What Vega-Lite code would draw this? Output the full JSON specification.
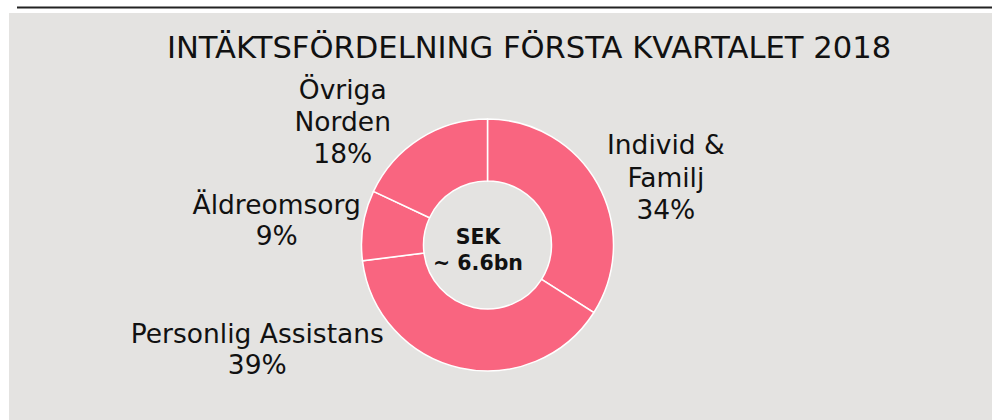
{
  "$schema": "https://vega.github.io/schema/vega-lite/v6.json",
  "autosize": {"type": "none"},
  "width": 983,
  "height": 407,
  "padding": {"left": 9, "top": 13, "right": 0, "bottom": 0},
  "background": "#ffffff",
  "view": {"fill": "#e4e3e1", "stroke": null},
  "config": {"view": {"fill": "#e4e3e1", "stroke": null}, "font": "DejaVu Sans"},
  "title": {
    "text": "INTÄKTSFÖRDELNING FÖRSTA KVARTALET 2018",
    "fontSize": 30.6,
    "font": "DejaVu Sans",
    "fontWeight": "normal",
    "color": "#111111",
    "anchor": "middle",
    "frame": "group",
    "dx": 28.5,
    "offset": -58
  },
  "data": {
    "values": [
      {"segment": "Individ & Familj", "value": 34, "label": "Individ &\nFamilj\n34%"},
      {"segment": "Personlig Assistans", "value": 39, "label": "Personlig Assistans\n39%"},
      {"segment": "Äldreomsorg", "value": 9, "label": "Äldreomsorg\n9%"},
      {"segment": "Övriga Norden", "value": 18, "label": "Övriga\nNorden\n18%"}
    ]
  },
  "transform": [
    {"stack": "value", "groupby": [], "as": ["v0", "v1"]},
    {"calculate": "(datum.v0 + datum.v1) / 2", "as": "mid"}
  ],
  "layer": [
    {
      "data": {"values": [{}]},
      "mark": {"type": "rule", "color": "#222222", "strokeWidth": 2},
      "encoding": {"x": {"value": 8}, "x2": {"value": 983}, "y": {"value": -5.5}}
    },
    {
      "mark": {"type": "arc", "x": 478.5, "y": 232, "radius": 126, "innerRadius": 64, "color": "#f96580", "stroke": "#ffffff", "strokeWidth": 1.5},
      "encoding": {
        "theta": {"field": "v0", "type": "quantitative", "scale": {"domain": [0, 100]}, "stack": false},
        "theta2": {"field": "v1"}
      }
    },
    {
      "transform": [{"filter": "datum.segment === 'Individ & Familj'"}],
      "mark": {"type": "text", "x": 478.5, "y": 232, "radius": 175, "fontSize": 26.5, "lineBreak": "\n", "lineHeight": 32.5, "align": "center", "baseline": "middle", "color": "#111111", "dx": 25, "dy": -14.5},
      "encoding": {
        "theta": {"field": "mid", "type": "quantitative", "scale": {"domain": [0, 100]}, "stack": false},
        "text": {"field": "label"}
      }
    },
    {
      "transform": [{"filter": "datum.segment === 'Personlig Assistans'"}],
      "mark": {"type": "text", "x": 478.5, "y": 232, "radius": 175, "fontSize": 26.5, "lineBreak": "\n", "lineHeight": 31, "align": "center", "baseline": "middle", "color": "#111111", "dx": -192, "dy": -80.5},
      "encoding": {
        "theta": {"field": "mid", "type": "quantitative", "scale": {"domain": [0, 100]}, "stack": false},
        "text": {"field": "label"}
      }
    },
    {
      "transform": [{"filter": "datum.segment === 'Äldreomsorg'"}],
      "mark": {"type": "text", "x": 478.5, "y": 232, "radius": 175, "fontSize": 26.5, "lineBreak": "\n", "lineHeight": 31, "align": "center", "baseline": "middle", "color": "#111111", "dx": -38, "dy": -12},
      "encoding": {
        "theta": {"field": "mid", "type": "quantitative", "scale": {"domain": [0, 100]}, "stack": false},
        "text": {"field": "label"}
      }
    },
    {
      "transform": [{"filter": "datum.segment === 'Övriga Norden'"}],
      "mark": {"type": "text", "x": 478.5, "y": 232, "radius": 175, "fontSize": 26.5, "lineBreak": "\n", "lineHeight": 32, "align": "center", "baseline": "middle", "color": "#111111", "dx": -51, "dy": -6},
      "encoding": {
        "theta": {"field": "mid", "type": "quantitative", "scale": {"domain": [0, 100]}, "stack": false},
        "text": {"field": "label"}
      }
    },
    {
      "data": {"values": [{"label": "SEK\n~ 6.6bn"}]},
      "mark": {"type": "text", "x": 469, "y": 225, "fontSize": 20.5, "fontWeight": "bold", "lineBreak": "\n", "lineHeight": 25.5, "align": "center", "baseline": "middle", "color": "#111111"},
      "encoding": {"text": {"field": "label"}}
    }
  ]
}
